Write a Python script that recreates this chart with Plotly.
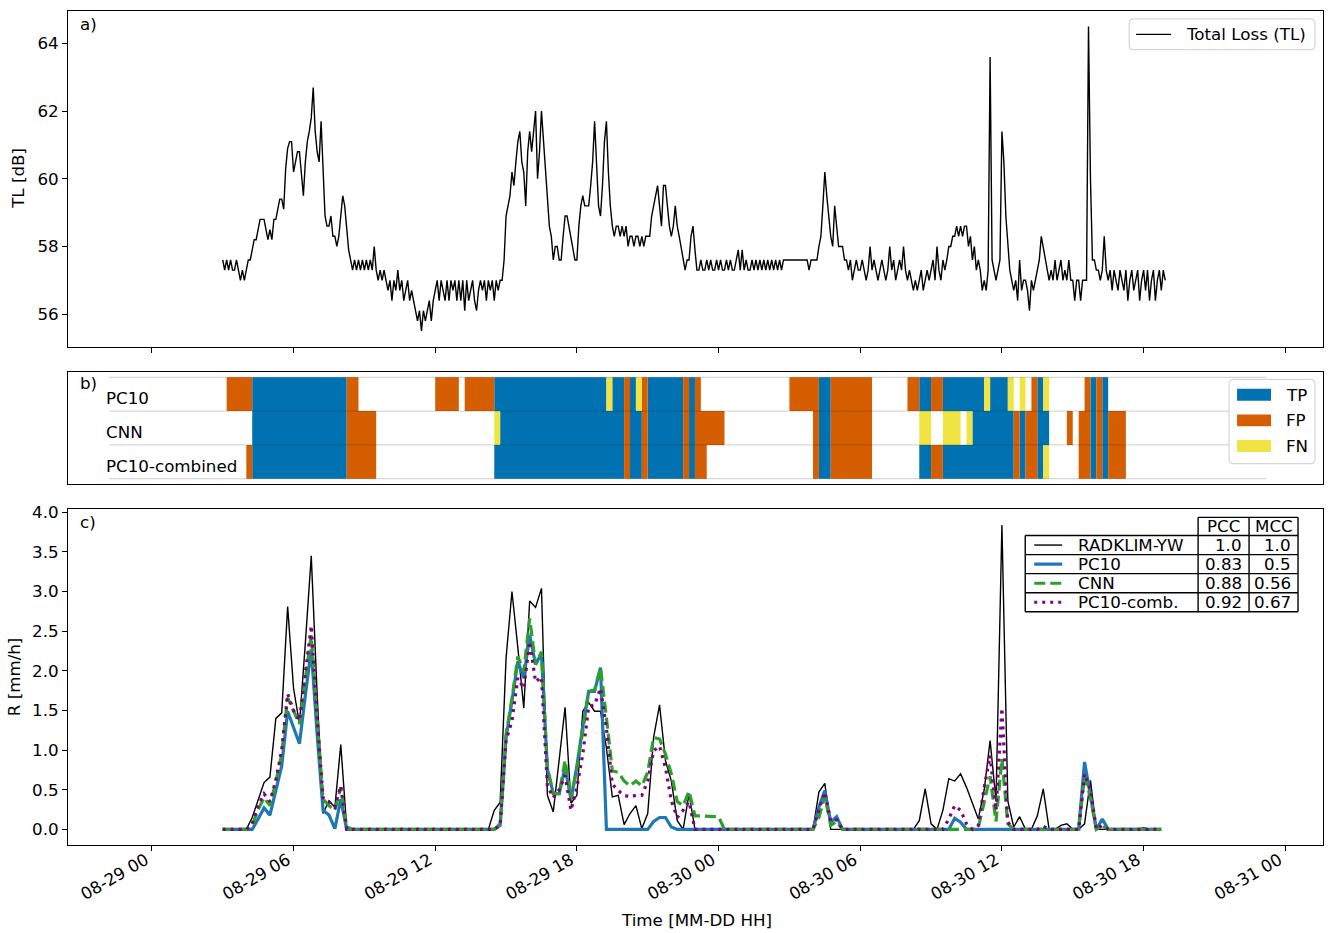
import plotly.graph_objects as go
import pandas as pd

FONT = "DejaVu Sans"
FS = 16.7
YEAR = "2021"

# ---------------- Panel a: Total Loss, 5-min values from 08-29 03:00 ----------------
tl_start = YEAR + "-08-29 03:00"
tl_values = [
    57.6, 57.3, 57.6, 57.3, 57.6, 57.3, 57.3, 57.6, 57.3, 57.0, 57.3, 57.0,  # 03h
    57.3, 57.6, 57.6, 57.9, 58.2, 58.2, 58.5, 58.8, 58.8, 58.8, 58.5, 58.2,  # 04h
    58.5, 58.2, 58.8, 58.8, 59.1, 59.4, 59.4, 59.1, 60.3, 60.9, 61.1, 61.1,  # 05h
    60.2, 60.5, 60.8, 60.8, 60.2, 59.5, 60.5, 61.1, 61.4, 61.8, 62.7, 61.4,  # 06h
    60.8, 60.5, 61.7, 60.2, 58.9, 58.6, 58.6, 58.9, 58.3, 58.3, 58.0, 58.3,  # 07h
    58.9, 59.5, 59.2, 58.6, 57.9, 57.6, 57.3, 57.6, 57.3, 57.6, 57.3, 57.6,  # 08h
    57.3, 57.6, 57.3, 57.6, 57.3, 58.0, 57.3, 57.0, 57.3, 57.0, 57.3, 57.0,  # 09h
    56.7, 57.0, 56.4, 57.0, 56.7, 57.3, 56.7, 57.0, 56.4, 56.7, 57.0, 56.4,  # 10h
    56.7, 56.4, 56.1, 55.8, 56.1, 55.5, 56.1, 55.8, 56.1, 56.4, 55.8, 56.4,  # 11h
    56.7, 57.0, 56.4, 57.0, 56.7, 56.4, 57.0, 56.4, 57.0, 56.7, 57.0, 56.4,  # 12h
    57.0, 56.4, 57.0, 56.1, 57.0, 56.4, 56.7, 57.0, 56.4, 56.1, 56.7, 57.0,  # 13h
    56.7, 57.0, 56.4, 57.0, 56.7, 57.0, 56.4, 57.0, 56.7, 57.0, 57.0, 57.6,  # 14h
    58.9, 59.2, 59.5, 60.2, 59.8, 60.5, 61.1, 61.4, 60.5, 60.2, 59.2, 60.8,  # 15h
    61.4, 60.8, 61.4, 62.0, 60.0, 60.8, 62.0, 61.1, 60.2, 59.2, 58.6, 58.3,  # 16h
    57.6, 58.0, 58.0, 57.6, 57.6, 58.3, 58.9, 58.9, 58.6, 58.3, 57.9, 57.6,  # 17h
    57.6, 58.6, 59.2, 59.5, 59.2, 59.2, 59.2, 59.8, 60.5, 61.7, 60.5, 59.2,  # 18h
    58.9, 59.8, 61.1, 61.7, 60.2, 59.2, 58.6, 58.3, 58.6, 58.6, 58.3, 58.6,  # 19h
    58.3, 58.6, 58.0, 58.3, 58.3, 58.0, 58.3, 58.3, 58.0, 58.3, 58.0, 58.3,  # 20h
    58.3, 58.3, 58.9, 59.2, 59.5, 59.8, 59.2, 58.6, 59.8, 59.8, 59.2, 58.6,  # 21h
    58.3, 58.6, 59.2, 58.6, 58.3, 58.0, 57.6, 57.3, 57.6, 57.6, 58.3, 58.6,  # 22h
    57.9, 57.3, 57.3, 57.6, 57.3, 57.3, 57.6, 57.3, 57.6, 57.3, 57.3, 57.6,  # 23h
    57.3, 57.6, 57.3, 57.3, 57.6, 57.3, 57.6, 57.3, 57.3, 57.6, 57.9, 57.3,  # 00h
    57.9, 57.3, 57.6, 57.3, 57.3, 57.6, 57.3, 57.6, 57.3, 57.6, 57.3, 57.6,  # 01h
    57.3, 57.6, 57.3, 57.6, 57.3, 57.6, 57.3, 57.6, 57.3, 57.6, 57.6, 57.6,  # 02h
    57.6, 57.6, 57.6, 57.6, 57.6, 57.6, 57.6, 57.6, 57.6, 57.6, 57.3, 57.6,  # 03h
    57.6, 57.6, 57.6, 58.0, 58.3, 59.2, 60.2, 59.5, 58.9, 58.3, 58.0, 59.2,  # 04h
    58.6, 58.0, 58.0, 58.0, 57.6, 57.6, 57.3, 57.6, 57.0, 57.3, 57.6, 57.3,  # 05h
    57.3, 57.6, 57.3, 57.0, 57.3, 58.0, 57.3, 57.6, 57.3, 57.0, 57.3, 57.6,  # 06h
    57.3, 57.0, 57.3, 58.0, 57.3, 57.6, 57.0, 57.3, 57.6, 57.3, 58.0, 57.3,  # 07h
    57.0, 57.3, 57.0, 56.7, 57.0, 56.7, 57.0, 57.3, 56.7, 57.0, 57.3, 57.0,  # 08h
    57.3, 57.6, 57.0, 58.0, 57.3, 57.0, 57.6, 57.3, 57.6, 58.0, 58.0, 58.3,  # 09h
    58.3, 58.6, 58.3, 58.6, 58.3, 58.6, 58.6, 58.0, 58.3, 57.6, 58.0, 57.3,  # 10h
    57.6, 57.3, 56.7, 57.0, 56.7, 57.3, 63.6, 57.6, 57.3, 57.0, 57.3, 57.6,  # 11h
    61.4, 60.5, 58.9, 58.0, 57.3, 57.0, 56.7, 57.0, 56.4, 57.6, 56.7, 57.0,  # 12h
    57.0, 56.7, 56.1, 57.0, 56.7, 57.0, 57.3, 57.6, 58.3, 58.0, 57.6, 57.3,  # 13h
    57.0, 57.3, 57.0, 57.6, 57.0, 57.3, 57.6, 57.0, 57.3, 57.0, 57.6, 57.0,  # 14h
    57.0, 56.4, 57.0, 57.0, 56.4, 57.0, 57.0, 57.0, 64.5, 60.0, 57.6, 57.6,  # 15h
    57.3, 57.3, 57.0, 57.3, 58.3, 57.3, 57.0, 57.3, 56.7, 57.3, 57.0, 56.7,  # 16h
    57.3, 57.0, 56.7, 57.3, 56.4, 57.0, 57.3, 56.7, 57.0, 57.3, 56.4, 57.0,  # 17h
    57.3, 56.7, 57.3, 56.4, 57.0, 57.3, 56.4, 57.0, 57.3, 56.7, 57.3, 57.0,  # 18h
]
tl_times = pd.date_range(tl_start, periods=len(tl_values), freq="5min")

# ---------------- Panel b: classification segments (class, start, end) ----------------
pc10_segments = [
    ("FP", "08-29 03:10", "08-29 04:15"), ("TP", "08-29 04:15", "08-29 08:15"),
    ("FP", "08-29 08:15", "08-29 08:45"), ("FP", "08-29 12:00", "08-29 13:00"),
    ("FP", "08-29 13:15", "08-29 14:30"), ("TP", "08-29 14:30", "08-29 19:15"),
    ("FN", "08-29 19:15", "08-29 19:30"), ("TP", "08-29 19:30", "08-29 20:00"),
    ("FP", "08-29 20:00", "08-29 20:15"), ("TP", "08-29 20:15", "08-29 20:30"),
    ("FN", "08-29 20:30", "08-29 20:45"), ("FP", "08-29 20:45", "08-29 21:00"),
    ("TP", "08-29 21:00", "08-29 22:30"), ("FP", "08-29 22:30", "08-29 22:45"),
    ("TP", "08-29 22:45", "08-29 23:00"), ("FP", "08-29 23:00", "08-29 23:15"),
    ("FP", "08-30 03:00", "08-30 04:15"), ("TP", "08-30 04:15", "08-30 04:45"),
    ("FP", "08-30 04:45", "08-30 06:30"), ("FP", "08-30 08:00", "08-30 08:30"),
    ("TP", "08-30 08:30", "08-30 09:00"), ("FP", "08-30 09:00", "08-30 09:30"),
    ("TP", "08-30 09:30", "08-30 11:15"), ("FN", "08-30 11:15", "08-30 11:30"),
    ("TP", "08-30 11:30", "08-30 12:15"), ("FN", "08-30 12:15", "08-30 12:30"),
    ("FN", "08-30 12:45", "08-30 13:00"), ("FP", "08-30 13:15", "08-30 13:30"),
    ("TP", "08-30 13:30", "08-30 13:45"), ("FN", "08-30 13:45", "08-30 14:00"),
    ("FP", "08-30 15:30", "08-30 15:45"), ("TP", "08-30 15:45", "08-30 16:00"),
    ("FP", "08-30 16:00", "08-30 16:15"), ("TP", "08-30 16:15", "08-30 16:30"),
]
cnn_segments = [
    ("TP", "08-29 04:15", "08-29 08:15"), ("FP", "08-29 08:15", "08-29 09:30"),
    ("FN", "08-29 14:30", "08-29 14:45"), ("TP", "08-29 14:45", "08-29 20:00"),
    ("FP", "08-29 20:00", "08-29 20:15"), ("TP", "08-29 20:15", "08-29 20:45"),
    ("FP", "08-29 20:45", "08-29 21:00"), ("TP", "08-29 21:00", "08-29 22:30"),
    ("FP", "08-29 22:30", "08-29 22:45"), ("TP", "08-29 22:45", "08-29 23:00"),
    ("FP", "08-29 23:00", "08-30 00:15"),
    ("FP", "08-30 04:00", "08-30 04:15"), ("TP", "08-30 04:15", "08-30 04:45"),
    ("FP", "08-30 04:45", "08-30 06:30"), ("FN", "08-30 08:30", "08-30 09:00"),
    ("FN", "08-30 09:30", "08-30 10:15"), ("FN", "08-30 10:30", "08-30 10:45"),
    ("TP", "08-30 10:45", "08-30 12:30"), ("FP", "08-30 12:30", "08-30 12:45"),
    ("TP", "08-30 12:45", "08-30 13:00"), ("FP", "08-30 13:00", "08-30 13:30"),
    ("TP", "08-30 13:30", "08-30 14:00"), ("FP", "08-30 14:45", "08-30 15:00"),
    ("FP", "08-30 15:15", "08-30 15:45"), ("TP", "08-30 15:45", "08-30 16:00"),
    ("FP", "08-30 16:00", "08-30 16:15"), ("TP", "08-30 16:15", "08-30 16:30"),
    ("FP", "08-30 16:30", "08-30 17:15"),
]
comb_segments = [
    ("FP", "08-29 04:00", "08-29 04:15"), ("TP", "08-29 04:15", "08-29 08:15"),
    ("FP", "08-29 08:15", "08-29 09:30"), ("TP", "08-29 14:30", "08-29 20:00"),
    ("FP", "08-29 20:00", "08-29 20:15"), ("TP", "08-29 20:15", "08-29 20:45"),
    ("FP", "08-29 20:45", "08-29 21:00"), ("TP", "08-29 21:00", "08-29 22:30"),
    ("FP", "08-29 22:30", "08-29 22:45"), ("TP", "08-29 22:45", "08-29 23:00"),
    ("FP", "08-29 23:00", "08-29 23:30"),
    ("FP", "08-30 04:00", "08-30 04:15"), ("TP", "08-30 04:15", "08-30 04:45"),
    ("FP", "08-30 04:45", "08-30 06:30"), ("TP", "08-30 08:30", "08-30 09:00"),
    ("FP", "08-30 09:00", "08-30 09:30"), ("TP", "08-30 09:30", "08-30 12:30"),
    ("FP", "08-30 12:30", "08-30 12:45"), ("TP", "08-30 12:45", "08-30 13:00"),
    ("FP", "08-30 13:00", "08-30 13:30"), ("TP", "08-30 13:30", "08-30 13:45"),
    ("FN", "08-30 13:45", "08-30 14:00"), ("FP", "08-30 15:15", "08-30 15:45"),
    ("TP", "08-30 15:45", "08-30 16:00"), ("FP", "08-30 16:00", "08-30 16:15"),
    ("TP", "08-30 16:15", "08-30 16:30"), ("FP", "08-30 16:30", "08-30 17:15"),
]
row_names = ["PC10", "CNN", "PC10-combined"]
class_names = ["TP", "FP", "FN"]
class_colors = {"TP": "#0072B2", "FP": "#D55E00", "FN": "#F0E442"}

# ---------------- Panel c: rain rates, 15-min values from 08-29 03:00 ----------------
r_start = YEAR + "-08-29 03:00"
radklim = [
    0, 0, 0, 0, 0, 0.15, 0.38, 0.59, 0.66, 1.40, 1.47, 2.81, 1.78, 1.33, 2.35, 3.45,
    1.70, 0.20, 0.36, 0.28, 1.07, 0.03, 0, 0, 0, 0, 0, 0, 0, 0, 0, 0,
    0, 0, 0, 0, 0, 0, 0, 0, 0, 0, 0, 0, 0, 0, 0.24, 0.34,
    2.16, 3.00, 2.29, 1.53, 2.88, 2.80, 3.04, 0.43, 0.22, 0.85, 1.54, 0.33, 0.43, 1.49, 1.60, 1.49,
    1.49, 1.03, 0.41, 0.43, 0.06, 0.20, 0.30, 0.01, 0.20, 1.16, 1.57, 0.87, 0.61, 0.11, 0, 0.45,
    0, 0, 0, 0, 0, 0, 0, 0, 0, 0, 0, 0, 0, 0, 0, 0,
    0, 0, 0, 0, 0, 0.47, 0.58, 0, 0, 0, 0, 0, 0, 0, 0, 0,
    0, 0, 0, 0, 0, 0, 0.11, 0.51, 0.07, 0, 0.24, 0.64, 0.61, 0.70, 0.53, 0.34,
    0.13, 0.50, 1.12, 0.36, 3.84, 0.36, 0.03, 0.16, 0, 0, 0.17, 0.51, 0, 0, 0.05, 0.07,
    0, 0, 0.07, 0.62, 0, 0, 0, 0, 0, 0, 0, 0, 0.02, 0, 0, 0,
]
pc10 = [
    0, 0, 0, 0, 0, 0, 0.13, 0.27, 0.18, 0.48, 0.80, 1.49, 1.28, 1.08, 1.69, 2.27,
    1.20, 0.24, 0.18, 0.01, 0.38, 0, 0, 0, 0, 0, 0, 0, 0, 0, 0, 0,
    0, 0, 0, 0, 0, 0, 0, 0, 0, 0, 0, 0, 0, 0, 0, 0.05,
    1.16, 1.62, 2.12, 1.91, 2.45, 2.08, 2.22, 0.76, 0.45, 0.45, 0.78, 0.38, 0.80, 1.30, 1.74, 1.74,
    2.04, 0, 0, 0, 0, 0, 0, 0, 0, 0.10, 0.15, 0.15, 0.03, 0, 0, 0,
    0, 0, 0, 0, 0, 0, 0, 0, 0, 0, 0, 0, 0, 0, 0, 0,
    0, 0, 0, 0, 0, 0.28, 0.49, 0.09, 0.16, 0, 0, 0, 0, 0, 0, 0,
    0, 0, 0, 0, 0, 0, 0, 0, 0, 0, 0, 0, 0.14, 0.09, 0, 0,
    0, 0, 0, 0, 0, 0, 0, 0, 0, 0, 0, 0, 0, 0, 0, 0,
    0, 0, 0.85, 0.45, 0, 0.13, 0, 0, 0, 0, 0, 0, 0, 0, 0, 0,
]
cnn = [
    0, 0, 0, 0, 0, 0.05, 0.25, 0.40, 0.30, 0.60, 0.95, 1.66, 1.50, 1.33, 1.90, 2.45,
    1.40, 0.38, 0.30, 0.24, 0.53, 0.03, 0, 0, 0, 0, 0, 0, 0, 0, 0, 0,
    0, 0, 0, 0, 0, 0, 0, 0, 0, 0, 0, 0, 0, 0, 0, 0.07,
    1.20, 1.65, 2.18, 1.99, 2.66, 2.08, 2.24, 0.78, 0.45, 0.45, 0.87, 0.38, 0.77, 1.24, 1.74, 1.76,
    2.04, 1.41, 0.74, 0.72, 0.61, 0.55, 0.61, 0.55, 0.72, 1.16, 1.14, 0.95, 0.70, 0.35, 0.30, 0.48,
    0.17, 0.17, 0.17, 0.17, 0.16, 0, 0, 0, 0, 0, 0, 0, 0, 0, 0, 0,
    0, 0, 0, 0, 0, 0.15, 0.42, 0.05, 0.10, 0, 0, 0, 0, 0, 0, 0,
    0, 0, 0, 0, 0, 0, 0, 0, 0, 0, 0, 0, 0, 0, 0, 0,
    0.02, 0.35, 0.67, 0.10, 0.89, 0.07, 0, 0, 0, 0, 0, 0, 0, 0, 0, 0,
    0, 0, 0.68, 0.40, 0, 0.05, 0, 0, 0, 0, 0, 0, 0, 0, 0, 0,
]
pc10_comb = [
    0, 0, 0, 0, 0, 0.07, 0.30, 0.45, 0.35, 0.62, 1.00, 1.71, 1.50, 1.37, 1.95, 2.57,
    1.40, 0.40, 0.35, 0.28, 0.55, 0, 0, 0, 0, 0, 0, 0, 0, 0, 0, 0,
    0, 0, 0, 0, 0, 0, 0, 0, 0, 0, 0, 0, 0, 0, 0, 0.05,
    1.12, 1.37, 1.91, 1.78, 2.37, 1.86, 1.92, 0.55, 0.40, 0.50, 0.68, 0.24, 0.53, 0.95, 1.55, 1.57,
    1.78, 1.28, 0.57, 0.49, 0.43, 0.41, 0.43, 0.43, 0.61, 0.99, 1.05, 0.78, 0.36, 0.15, 0.24, 0.35,
    0, 0, 0, 0, 0, 0, 0, 0, 0, 0, 0, 0, 0, 0, 0, 0,
    0, 0, 0, 0, 0, 0.25, 0.47, 0.10, 0.12, 0, 0, 0, 0, 0, 0, 0,
    0, 0, 0, 0, 0, 0, 0, 0, 0, 0, 0, 0.13, 0.30, 0.24, 0.07, 0,
    0.05, 0.53, 0.93, 0.24, 1.53, 0.09, 0, 0, 0, 0, 0, 0.04, 0, 0, 0, 0,
    0, 0, 0.70, 0.50, 0, 0.05, 0, 0, 0, 0, 0, 0, 0, 0, 0, 0,
]
r_times = pd.date_range(r_start, periods=len(radklim), freq="15min")

table_names = ["RADKLIM-YW", "PC10", "CNN", "PC10-comb."]
table_pcc = ["1.0", "0.83", "0.88", "0.92"]
table_mcc = ["1.0", "0.5", "0.56", "0.67"]

series_style = [
    (radklim, "black", 1.4, "solid"),
    (pc10, "#1f77b4", 3.2, "solid"),
    (cnn, "#2ca02c", 3.2, "11px,5px"),
    (pc10_comb, "purple", 3.2, "3px,5px"),
]

# ---------------- geometry helpers ----------------
W, H = 1328, 933
ML, MR, MT, MB = 68, 4, 5, 88


def px_x(x):
    return (x - ML) / (W - ML - MR)


def px_y(y):
    return (H - MB - y) / (H - MT - MB)


def rounded_rect(x0, y0, x1, y1, r=4):
    X, Y = px_x, px_y
    return (f"M {X(x0 + r)},{Y(y0)} L {X(x1 - r)},{Y(y0)} Q {X(x1)},{Y(y0)} {X(x1)},{Y(y0 + r)} "
            f"L {X(x1)},{Y(y1 - r)} Q {X(x1)},{Y(y1)} {X(x1 - r)},{Y(y1)} "
            f"L {X(x0 + r)},{Y(y1)} Q {X(x0)},{Y(y1)} {X(x0)},{Y(y1 - r)} "
            f"L {X(x0)},{Y(y0 + r)} Q {X(x0)},{Y(y0)} {X(x0 + r)},{Y(y0)} Z")


fig = go.Figure()

# panel a
fig.add_trace(go.Scatter(x=tl_times, y=tl_values, mode="lines",
                         line=dict(color="black", width=1.4),
                         xaxis="x", yaxis="y", showlegend=False, hoverinfo="skip"))

# panel b
row_base = {"PC10": 2, "CNN": 1, "PC10-combined": 0}
row_segs = {"PC10": pc10_segments, "CNN": cnn_segments, "PC10-combined": comb_segments}
for cls in class_names:
    xs, ys = [], []
    for name in row_names:
        b = row_base[name]
        for c, s, e in row_segs[name]:
            if c != cls:
                continue
            s_t = YEAR + "-" + s
            e_t = YEAR + "-" + e
            xs += [s_t, e_t, e_t, s_t, s_t, None]
            ys += [b, b, b + 1, b + 1, b, None]
    fig.add_trace(go.Scatter(x=xs, y=ys, mode="lines", fill="toself",
                             fillcolor=class_colors[cls],
                             line=dict(width=0, color=class_colors[cls]),
                             xaxis="x2", yaxis="y2", showlegend=False, hoverinfo="skip"))

# panel c
for vals, col, lw, dash in series_style:
    fig.add_trace(go.Scatter(x=r_times, y=vals, mode="lines",
                             line=dict(color=col, width=lw, dash=dash),
                             xaxis="x3", yaxis="y3", showlegend=False, hoverinfo="skip"))

x_range = [YEAR + "-08-28 20:26:53", YEAR + "-08-31 01:35:53"]
tickfont = dict(family=FONT, size=FS, color="black")
common_x = dict(type="date", range=x_range, dtick=6 * 3600 * 1000,
                tick0=YEAR + "-08-29 00:00", showgrid=False, zeroline=False,
                showline=True, linecolor="black", linewidth=1.1, mirror=True,
                tickcolor="black", tickwidth=1.1, ticklen=5, domain=[0, 1])
common_y = dict(showgrid=False, zeroline=False, showline=True, linecolor="black",
                linewidth=1.1, mirror=True, tickcolor="black", tickwidth=1.1,
                ticklen=5, tickfont=tickfont)

fig.update_layout(
    width=W, height=H,
    margin=dict(l=ML, r=MR, t=MT, b=MB, pad=0),
    plot_bgcolor="white", paper_bgcolor="white",
    font=dict(family=FONT, size=FS, color="black"),
    xaxis=dict(**common_x, anchor="y", ticks="outside", showticklabels=False),
    xaxis2=dict(**common_x, anchor="y2", ticks="", showticklabels=False),
    xaxis3=dict(**common_x, anchor="y3", ticks="outside", showticklabels=True,
                tickformat="%m-%d %H", tickangle=-30, tickfont=tickfont,
                ticklabelshift=-6, ticklabelstandoff=-7),
    yaxis=dict(**common_y, domain=[px_y(343), px_y(5)], anchor="x",
               range=[55.04, 64.96], tickvals=[56, 58, 60, 62, 64], ticks="outside"),
    yaxis2=dict(showgrid=False, zeroline=False, showline=True, linecolor="black",
                linewidth=1.1, mirror=True, domain=[px_y(481), px_y(369)], anchor="x2",
                range=[-0.147, 3.147], ticks="", showticklabels=False),
    yaxis3=dict(**common_y, domain=[0, px_y(507)], anchor="x3",
                range=[-0.197, 4.036], tick0=0, dtick=0.5, tickformat=".1f", ticks="outside"),
)

shapes = []
ann = []


def text(x, y, s, xanchor="left", size=FS, angle=0):
    ann.append(dict(x=px_x(x), y=px_y(y), xref="paper", yref="paper", text=s,
                    showarrow=False, xanchor=xanchor, yanchor="middle", textangle=angle,
                    font=dict(family=FONT, size=size, color="black")))


def pline(x0, y0, x1, y1, color="black", width=1.4, dash="solid"):
    shapes.append(dict(type="line", xref="paper", yref="paper",
                       x0=px_x(x0), y0=px_y(y0), x1=px_x(x1), y1=px_y(y1),
                       line=dict(color=color, width=width, dash=dash), layer="above"))


# panel labels and axis titles
text(78, 18, "a)")
text(78, 380, "b)")
text(78, 520, "c)")
text(18, 174, "TL [dB]", xanchor="center", angle=-90)
text(14, 676, "R [mm/h]", xanchor="center", angle=-90)
text(697, 921, "Time [MM-DD HH]", xanchor="center")

# panel b grid lines
for yv in [0, 1, 2, 3]:
    shapes.append(dict(type="line", xref="x2 domain", yref="y2", x0=0.0326, x1=0.9547,
                       y0=yv, y1=yv, line=dict(color="rgba(0,0,0,0.16)", width=1.3),
                       layer="above"))
# row labels
text(104, 395, "PC10")
text(104, 429, "CNN")
text(104, 463, "PC10-combined")

# panel a legend
shapes.append(dict(type="path", xref="paper", yref="paper", path=rounded_rect(1130, 13, 1316, 44),
                   line=dict(color="#cccccc", width=1), fillcolor="rgba(255,255,255,0.8)",
                   layer="above"))
pline(1137, 28.5, 1172, 28.5, width=1.4)
text(1185, 28.5, "Total Loss (TL)")

# panel b legend
shapes.append(dict(type="path", xref="paper", yref="paper", path=rounded_rect(1230, 376, 1316, 461),
                   line=dict(color="#cccccc", width=1), fillcolor="rgba(255,255,255,0.8)",
                   layer="above"))
for k, cls in enumerate(class_names):
    yc = 391.5 + k * 25.8
    shapes.append(dict(type="rect", xref="paper", yref="paper",
                       x0=px_x(1238), x1=px_x(1272), y0=px_y(yc - 6), y1=px_y(yc + 6),
                       fillcolor=class_colors[cls], line=dict(width=0), layer="above"))
    text(1285, yc, cls)

# panel c table legend
tx0, tx1, tx2, tx3 = 1026, 1199, 1250, 1299
ty = [515, 533.3, 552.5, 571.7, 591, 610]
pline(tx1, ty[0], tx3, ty[0])
pline(tx1, ty[0], tx1, ty[5])
pline(tx2, ty[0], tx2, ty[5])
pline(tx3, ty[0], tx3, ty[5])
pline(tx0, ty[1], tx0, ty[5])
for yv in ty[1:]:
    pline(tx0, yv, tx3, yv)
text((tx1 + tx2) / 2, (ty[0] + ty[1]) / 2, "PCC", xanchor="center")
text((tx2 + tx3) / 2, (ty[0] + ty[1]) / 2, "MCC", xanchor="center")
for k in range(4):
    yc = (ty[k + 1] + ty[k + 2]) / 2
    _, col, lw, dash = series_style[k]
    pline(1035, yc, 1063, yc, color=col, width=lw, dash=dash)
    text(1077, yc, table_names[k])
    text(tx2 - 5, yc, table_pcc[k], xanchor="right")
    text(tx3 - 5, yc, table_mcc[k], xanchor="right")

fig.update_layout(shapes=shapes, annotations=ann)
fig.write_html("out.html", config={"displayModeBar": False},
               post_script="document.body.style.margin='0px';")
